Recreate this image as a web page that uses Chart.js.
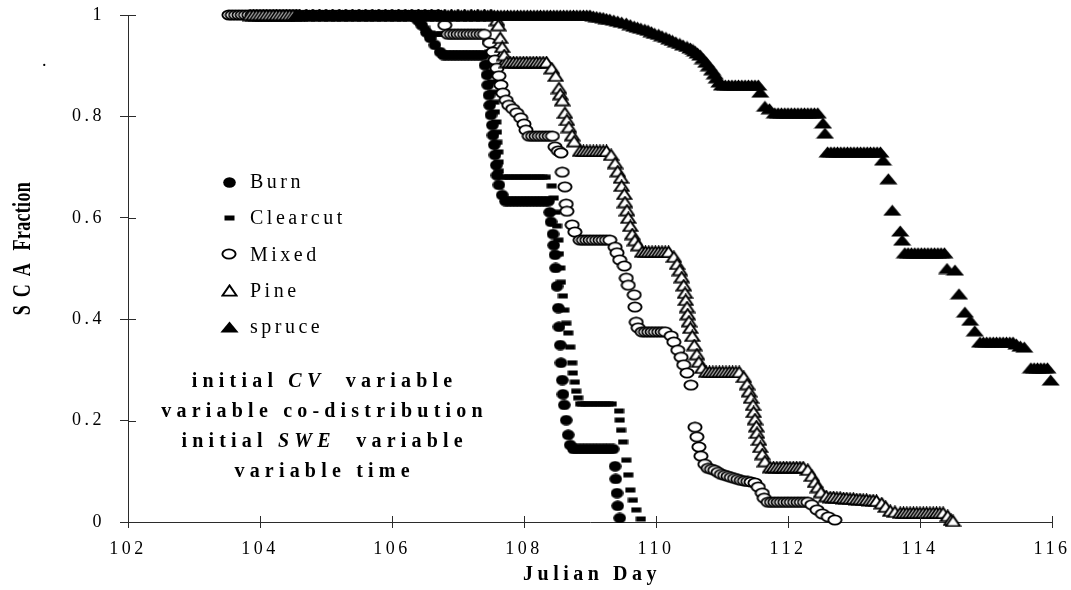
<!DOCTYPE html>
<html>
<head>
<meta charset="utf-8">
<title>SCA depletion by stand type</title>
<script src="https://cdn.jsdelivr.net/npm/chart.js@4.4.1/dist/chart.umd.min.js"></script>
<style>
  html, body { margin: 0; padding: 0; background: #fff; }
  #wrap { width: 1071px; height: 590px; position: relative; }
</style>
</head>
<body>
<div id="wrap"><canvas id="chart" width="1071" height="590"></canvas></div>
<script>
// ---- data: snow-covered-area fraction against Julian day ----
const seriesNames = ['Burn', 'Clearcut', 'Mixed', 'Pine', 'spruce'];
const dayTicks = [102, 104, 106, 108, 110, 112, 114, 116];
const scaTicks = [0, 0.2, 0.4, 0.6, 0.8, 1];
const noteLines = [
  [['initial ', false], ['CV', true], ['  variable', false]],
  [['variable co-distribution', false]],
  [['initial ', false], ['SWE', true], ['  variable', false]],
  [['variable time', false]]
];

const burnPoints = [
  [104.0,1],[104.1,1],[104.2,1],[104.3,1],[104.4,1],[104.5,1],[104.6,1],[104.7,1],[104.8,1],[104.9,1],
  [105.0,1],[105.1,1],[105.2,1],[105.3,1],[105.4,1],[105.5,1],[105.6,1],[105.7,1],[105.8,1],[105.9,1],
  [106.0,1],[106.1,1],[106.2,1],[106.3,1],[106.35,1],
  [106.39,0.99],[106.45,0.98],[106.52,0.966],[106.58,0.955],[106.65,0.941],[106.73,0.927],
  [106.78,0.921],[106.83,0.921],[106.88,0.921],[106.93,0.921],[106.98,0.921],[107.03,0.921],[107.08,0.921],
  [107.13,0.921],[107.18,0.921],[107.23,0.921],[107.28,0.921],[107.33,0.921],[107.38,0.921],
  [107.41,0.901],[107.44,0.882],[107.45,0.862],[107.47,0.842],[107.48,0.822],[107.5,0.803],[107.52,0.783],
  [107.53,0.763],[107.55,0.744],[107.56,0.724],[107.58,0.704],[107.59,0.684],[107.62,0.665],[107.67,0.645],
  [107.72,0.633],[107.77,0.633],[107.82,0.633],[107.87,0.633],[107.92,0.633],[107.97,0.633],[108.02,0.633],
  [108.07,0.633],[108.12,0.633],[108.17,0.633],[108.22,0.633],[108.27,0.633],[108.32,0.633],[108.37,0.633],
  [108.39,0.611],[108.41,0.592],[108.44,0.568],[108.45,0.546],[108.47,0.527],[108.48,0.501],[108.5,0.465],
  [108.52,0.422],[108.53,0.385],[108.55,0.349],[108.56,0.314],[108.58,0.28],[108.59,0.252],[108.61,0.231],
  [108.64,0.201],[108.67,0.172],[108.7,0.152],
  [108.75,0.144],[108.8,0.144],[108.85,0.144],[108.9,0.144],[108.95,0.144],[109.0,0.144],[109.05,0.144],
  [109.1,0.144],[109.15,0.144],[109.2,0.144],[109.25,0.144],[109.3,0.144],[109.35,0.144],
  [109.38,0.11],[109.39,0.085],[109.41,0.057],[109.42,0.032],[109.45,0.008]
];

const clearcutPoints = [
  [104.0,1],[104.1,1],[104.2,1],[104.3,1],[104.4,1],[104.5,1],[104.6,1],[104.7,1],[104.8,1],[104.9,1],
  [105.0,1],[105.1,1],[105.2,1],[105.3,1],[105.4,1],[105.5,1],[105.6,1],[105.7,1],[105.8,1],[105.9,1],
  [106.0,1],[106.1,1],[106.2,1],[106.3,1],[106.35,1],
  [106.42,0.986],[106.5,0.974],[106.58,0.964],
  [106.65,0.962],[106.7,0.962],[106.75,0.962],[106.8,0.962],[106.85,0.962],[106.9,0.962],[106.95,0.962],
  [107.0,0.962],[107.05,0.962],[107.1,0.962],[107.15,0.962],[107.2,0.962],[107.25,0.962],[107.3,0.962],[107.35,0.962],
  [107.44,0.947],[107.47,0.927],[107.48,0.907],[107.5,0.888],[107.52,0.868],[107.53,0.848],[107.55,0.828],
  [107.56,0.809],[107.58,0.789],[107.59,0.769],[107.595,0.749],[107.61,0.73],[107.615,0.71],[107.62,0.692],
  [107.68,0.68],[107.73,0.68],[107.78,0.68],[107.83,0.68],[107.88,0.68],[107.93,0.68],[107.98,0.68],
  [108.03,0.68],[108.08,0.68],[108.13,0.68],[108.18,0.68],[108.23,0.68],[108.28,0.68],[108.33,0.68],
  [108.42,0.663],[108.45,0.639],[108.48,0.611],[108.5,0.584],[108.52,0.556],[108.53,0.529],[108.55,0.501],
  [108.56,0.473],[108.59,0.446],[108.61,0.418],[108.64,0.392],[108.67,0.373],[108.7,0.345],[108.73,0.314],
  [108.74,0.294],[108.77,0.276],[108.79,0.258],[108.82,0.245],
  [108.85,0.233],[108.88,0.233],[108.93,0.233],[108.98,0.233],[109.03,0.233],[109.08,0.233],[109.13,0.233],
  [109.18,0.233],[109.23,0.233],[109.28,0.233],[109.33,0.233],
  [109.44,0.219],[109.45,0.201],[109.47,0.181],[109.5,0.158],[109.55,0.122],[109.58,0.093],[109.61,0.063],
  [109.65,0.043],[109.7,0.024],[109.77,0.006]
];

const mixedPoints = [
  [103.53,1],[103.58,1],[103.63,1],[103.68,1],[103.73,1],[103.78,1],[103.83,1],[103.88,1],[103.93,1],[103.98,1],
  [104.03,1],[104.08,1],[104.13,1],[104.18,1],[104.23,1],[104.28,1],[104.33,1],[104.38,1],[104.43,1],[104.48,1],
  [104.53,1],[104.58,1],
  [104.7,1],[104.8,1],[104.9,1],[105.0,1],[105.1,1],[105.2,1],[105.3,1],[105.4,1],[105.5,1],[105.6,1],
  [105.7,1],[105.8,1],[105.9,1],[106.0,1],[106.1,1],[106.2,1],[106.3,1],[106.4,1],[106.5,1],[106.6,1],[106.7,1],
  [106.8,0.98],
  [106.85,0.962],[106.9,0.962],[106.95,0.962],[107.0,0.962],[107.05,0.962],[107.1,0.962],[107.15,0.962],
  [107.2,0.962],[107.25,0.962],[107.3,0.962],[107.35,0.962],[107.4,0.962],
  [107.48,0.945],[107.53,0.927],[107.56,0.911],[107.59,0.895],[107.62,0.88],[107.65,0.862],[107.68,0.846],
  [107.73,0.832],[107.77,0.822],[107.83,0.815],[107.89,0.807],[107.95,0.797],[108.0,0.785],[108.03,0.773],
  [108.08,0.761],[108.13,0.761],[108.18,0.761],[108.23,0.761],[108.28,0.761],[108.33,0.761],[108.38,0.761],[108.43,0.761],
  [108.47,0.74],[108.52,0.732],[108.56,0.728],[108.58,0.69],[108.62,0.661],[108.64,0.627],[108.65,0.613],
  [108.73,0.586],[108.77,0.572],
  [108.85,0.556],[108.9,0.556],[108.95,0.556],[109.0,0.556],[109.05,0.556],[109.1,0.556],[109.15,0.556],
  [109.2,0.556],[109.25,0.556],[109.3,0.556],
  [109.38,0.542],[109.41,0.531],[109.45,0.517],[109.52,0.505],[109.55,0.481],[109.58,0.467],[109.67,0.448],
  [109.68,0.424],[109.7,0.394],[109.73,0.383],
  [109.79,0.375],[109.84,0.375],[109.89,0.375],[109.94,0.375],[109.99,0.375],[110.04,0.375],[110.09,0.375],[110.14,0.375],
  [110.23,0.367],[110.27,0.355],[110.33,0.339],[110.38,0.325],[110.42,0.31],[110.47,0.294],[110.53,0.27],
  [110.59,0.187],[110.62,0.168],[110.65,0.148],[110.68,0.13],[110.74,0.114],
  [110.79,0.106],[110.84,0.104],[110.89,0.102],[110.94,0.098],[110.99,0.094],[111.04,0.092],[111.09,0.09],
  [111.14,0.088],[111.19,0.086],[111.24,0.084],[111.29,0.082],[111.34,0.081],[111.39,0.08],[111.44,0.079],
  [111.5,0.077],[111.55,0.069],[111.61,0.057],[111.64,0.047],
  [111.7,0.039],[111.75,0.039],[111.8,0.039],[111.85,0.039],[111.9,0.039],[111.95,0.039],[112.0,0.039],
  [112.05,0.039],[112.1,0.039],[112.15,0.039],[112.2,0.039],[112.25,0.039],[112.3,0.039],
  [112.36,0.034],[112.44,0.024],[112.52,0.016],[112.61,0.01],[112.71,0.004]
];

const pinePoints = [
  [103.85,1],[103.9,1],[103.95,1],[104.0,1],[104.05,1],[104.1,1],[104.15,1],[104.2,1],[104.25,1],[104.3,1],
  [104.35,1],[104.4,1],[104.45,1],[104.5,1],[104.55,1],[104.6,1],
  [104.7,1],[104.8,1],[104.9,1],[105.0,1],[105.1,1],[105.2,1],[105.3,1],[105.4,1],[105.5,1],[105.6,1],
  [105.7,1],[105.8,1],[105.9,1],[106.0,1],[106.1,1],[106.2,1],[106.3,1],[106.4,1],[106.5,1],[106.6,1],
  [106.7,1],[106.8,1],[106.9,1],[107.0,1],[107.1,1],[107.2,1],[107.3,1],[107.4,1],[107.5,1],
  [107.59,0.99],[107.61,0.98],[107.64,0.955],[107.67,0.937],[107.7,0.921],
  [107.74,0.907],[107.79,0.907],[107.84,0.907],[107.89,0.907],[107.94,0.907],[107.99,0.907],[108.04,0.907],
  [108.09,0.907],[108.14,0.907],[108.19,0.907],[108.24,0.907],[108.29,0.907],[108.34,0.907],
  [108.42,0.895],[108.48,0.88],[108.53,0.856],[108.55,0.844],[108.58,0.832],[108.62,0.807],[108.65,0.793],
  [108.68,0.779],[108.73,0.763],[108.76,0.751],
  [108.85,0.732],[108.9,0.732],[108.95,0.732],[109.0,0.732],[109.05,0.732],[109.1,0.732],[109.15,0.732],
  [109.2,0.732],[109.25,0.732],
  [109.32,0.724],[109.38,0.708],[109.42,0.692],[109.47,0.679],[109.48,0.663],[109.52,0.647],[109.53,0.631],
  [109.56,0.615],[109.58,0.6],[109.61,0.584],[109.64,0.568],[109.68,0.556],[109.73,0.546],
  [109.79,0.533],[109.84,0.533],[109.89,0.533],[109.94,0.533],[109.99,0.533],[110.04,0.533],[110.09,0.533],
  [110.14,0.533],[110.19,0.533],
  [110.27,0.523],[110.32,0.509],[110.36,0.497],[110.39,0.483],[110.42,0.467],[110.44,0.452],[110.45,0.438],
  [110.47,0.424],[110.48,0.41],[110.5,0.396],[110.52,0.383],[110.55,0.367],[110.58,0.349],[110.62,0.331],
  [110.65,0.316],[110.7,0.304],
  [110.76,0.296],[110.81,0.296],[110.86,0.296],[110.91,0.296],[110.96,0.296],[111.01,0.296],[111.06,0.296],
  [111.11,0.296],[111.16,0.296],[111.21,0.296],[111.26,0.296],
  [111.33,0.286],[111.38,0.272],[111.41,0.258],[111.44,0.245],[111.47,0.231],[111.48,0.217],[111.5,0.203],
  [111.52,0.189],[111.53,0.176],[111.56,0.162],[111.58,0.148],[111.61,0.134],[111.65,0.12],
  [111.73,0.108],[111.78,0.108],[111.83,0.108],[111.88,0.108],[111.93,0.108],[111.98,0.108],[112.03,0.108],
  [112.08,0.108],[112.13,0.108],[112.18,0.108],[112.23,0.108],
  [112.3,0.103],[112.36,0.091],[112.41,0.079],[112.45,0.069],[112.5,0.059],[112.58,0.051],
  [112.64,0.049],[112.69,0.049],[112.74,0.048],[112.79,0.048],[112.84,0.047],[112.89,0.047],[112.94,0.046],
  [112.99,0.046],[113.04,0.045],[113.09,0.045],[113.14,0.044],[113.19,0.044],[113.24,0.043],[113.29,0.043],[113.34,0.042],
  [113.42,0.037],[113.48,0.03],[113.55,0.022],[113.62,0.02],
  [113.7,0.018],[113.75,0.018],[113.8,0.018],[113.85,0.018],[113.9,0.018],[113.95,0.018],[114.0,0.018],
  [114.05,0.018],[114.1,0.018],[114.15,0.018],[114.2,0.018],[114.25,0.018],[114.3,0.018],[114.35,0.018],
  [114.42,0.012],[114.47,0.004],[114.5,0.002]
];

const sprucePoints = [
  [104.55,1],[104.6,1],[104.65,1],[104.7,1],[104.75,1],[104.8,1],[104.85,1],[104.9,1],[104.95,1],[105.0,1],
  [105.05,1],[105.1,1],[105.15,1],[105.2,1],[105.25,1],[105.3,1],[105.35,1],[105.4,1],[105.45,1],[105.5,1],
  [105.55,1],[105.6,1],[105.65,1],[105.7,1],[105.75,1],[105.8,1],[105.85,1],[105.9,1],[105.95,1],[106.0,1],
  [106.05,1],[106.1,1],[106.15,1],[106.2,1],[106.25,1],[106.3,1],[106.35,1],[106.4,1],[106.45,1],[106.5,1],
  [106.55,1],[106.6,1],[106.65,1],[106.7,1],[106.75,1],[106.8,1],[106.85,1],[106.9,1],[106.95,1],[107.0,1],
  [107.05,1],[107.1,1],[107.15,1],[107.2,1],[107.25,1],[107.3,1],[107.35,1],[107.4,1],[107.45,1],[107.5,1],
  [107.55,1],[107.6,1],[107.65,1],[107.7,1],[107.75,1],[107.8,1],[107.85,1],[107.9,1],[107.95,1],[108.0,1],
  [108.05,1],[108.1,1],[108.15,1],[108.2,1],[108.25,1],[108.3,1],[108.35,1],[108.4,1],[108.45,1],[108.5,1],
  [108.55,1],[108.6,1],[108.65,1],[108.7,1],[108.75,1],[108.8,1],[108.85,1],[108.9,1],[108.95,1],[109.0,1],
  [109.05,0.998],[109.1,0.997],[109.15,0.996],[109.2,0.995],[109.25,0.993],[109.3,0.992],[109.36,0.99],
  [109.42,0.988],[109.48,0.986],[109.55,0.984],[109.61,0.981],[109.67,0.978],[109.72,0.976],[109.77,0.974],
  [109.83,0.972],[109.88,0.97],[109.93,0.967],[109.98,0.964],[110.04,0.962],[110.09,0.959],[110.15,0.956],
  [110.2,0.953],[110.25,0.95],[110.3,0.947],[110.36,0.944],[110.41,0.941],[110.47,0.938],[110.52,0.935],
  [110.56,0.932],[110.59,0.929],[110.63,0.925],[110.67,0.921],[110.71,0.914],[110.76,0.907],[110.8,0.9],
  [110.85,0.892],[110.89,0.884],[110.92,0.876],[110.96,0.868],
  [111.0,0.862],[111.05,0.862],[111.1,0.862],[111.15,0.862],[111.2,0.862],[111.25,0.862],[111.3,0.862],
  [111.35,0.862],[111.4,0.862],[111.45,0.862],[111.5,0.862],[111.55,0.862],
  [111.58,0.848],[111.65,0.82],[111.72,0.815],
  [111.8,0.807],[111.85,0.807],[111.9,0.807],[111.95,0.807],[112.0,0.807],[112.05,0.807],[112.1,0.807],
  [112.15,0.807],[112.2,0.807],[112.25,0.807],[112.3,0.807],[112.35,0.807],[112.4,0.807],[112.45,0.807],
  [112.53,0.787],[112.56,0.767],
  [112.6,0.73],[112.65,0.73],[112.7,0.73],[112.75,0.73],[112.8,0.73],[112.85,0.73],[112.9,0.73],[112.95,0.73],
  [113.0,0.73],[113.05,0.73],[113.1,0.73],[113.15,0.73],[113.2,0.73],[113.25,0.73],[113.3,0.73],[113.35,0.73],[113.4,0.73],
  [113.44,0.714],[113.52,0.677],[113.58,0.615],[113.7,0.574],[113.73,0.556],
  [113.77,0.531],[113.82,0.531],[113.87,0.531],[113.92,0.531],[113.97,0.531],[114.02,0.531],[114.07,0.531],
  [114.12,0.531],[114.17,0.531],[114.22,0.531],[114.27,0.531],[114.32,0.531],[114.37,0.531],
  [114.41,0.5],[114.53,0.497],[114.59,0.45],[114.68,0.414],[114.76,0.398],[114.83,0.377],
  [114.91,0.355],[114.96,0.355],[115.01,0.355],[115.06,0.355],[115.11,0.355],[115.16,0.355],[115.21,0.355],
  [115.26,0.355],[115.31,0.355],[115.36,0.355],[115.41,0.355],
  [115.46,0.351],[115.52,0.347],[115.58,0.345],
  [115.68,0.304],[115.73,0.304],[115.78,0.304],[115.83,0.304],[115.88,0.304],[115.93,0.304],
  [115.98,0.28]
];

// ---- marker glyphs ----
function glyph(w, h, paint) {
  const c = document.createElement('canvas');
  c.width = w; c.height = h;
  paint(c.getContext('2d'), w, h);
  return c;
}
const INK = '#000';
const markers = {
  burn: glyph(13, 11, (g) => {
    g.fillStyle = INK; g.beginPath(); g.ellipse(6.5, 5.5, 6.3, 5.3, 0, 0, Math.PI * 2); g.fill();
  }),
  clearcut: glyph(11, 6, (g) => {
    g.fillStyle = INK; g.fillRect(0.5, 0.5, 10, 5);
  }),
  mixed: glyph(16, 12, (g) => {
    g.beginPath(); g.ellipse(8, 6, 6.6, 4.6, 0, 0, Math.PI * 2);
    g.fillStyle = '#fff'; g.fill(); g.lineWidth = 1.9; g.strokeStyle = INK; g.stroke();
  }),
  pine: glyph(17, 13, (g) => {
    g.beginPath(); g.moveTo(8.5, 1.4); g.lineTo(15.6, 11.6); g.lineTo(1.4, 11.6); g.closePath();
    g.fillStyle = '#fff'; g.fill(); g.lineWidth = 1.9; g.lineJoin = 'miter'; g.strokeStyle = INK; g.stroke();
  }),
  spruce: glyph(19, 12, (g) => {
    g.beginPath(); g.moveTo(9.5, 0.6); g.lineTo(18.6, 11.4); g.lineTo(0.4, 11.4); g.closePath();
    g.fillStyle = INK; g.fill();
  })
};
const markerOrder = [markers.burn, markers.clearcut, markers.mixed, markers.pine, markers.spruce];
const allPoints = [burnPoints, clearcutPoints, mixedPoints, pinePoints, sprucePoints];

// ---- layout and text styling ----
const AXIS = '#2b2b2b';
const SERIF = '"Liberation Serif", "Times New Roman", serif';
const legendBox = { markerX: 229, textX: 250, firstY: 182, stepY: 36.2 };
const noteBox = { centerX: 322, firstY: 382, stepY: 30 };
const yTitleRuns = [['SCA', 8], [' Fraction', 0.3]];
const yTitleBox = { x: 23, topY: 182, widen: 1.4 };

const decor = {
  id: 'decor',
  beforeDraw(chart) {
    chart.ctx.letterSpacing = '3.5px';
  },
  afterDraw(chart) {
    const ctx = chart.ctx;
    const { left, bottom } = chart.chartArea;
    const xs = chart.scales.x, ys = chart.scales.y;
    ctx.save();

    // inner halves of the crossing tick marks
    ctx.strokeStyle = AXIS; ctx.lineWidth = 1;
    ctx.beginPath();
    dayTicks.forEach((d) => {
      const px = Math.round(xs.getPixelForValue(d)) + 0.5;
      ctx.moveTo(px, bottom); ctx.lineTo(px, bottom - 6);
    });
    scaTicks.forEach((v) => {
      const py = Math.round(ys.getPixelForValue(v)) + 0.5;
      ctx.moveTo(left, py); ctx.lineTo(left + 8, py);
    });
    ctx.stroke();

    ctx.fillStyle = INK;
    ctx.textBaseline = 'middle';

    // legend
    ctx.font = '20px ' + SERIF;
    ctx.letterSpacing = '3.5px';
    ctx.textAlign = 'left';
    seriesNames.forEach((name, i) => {
      const y = legendBox.firstY + i * legendBox.stepY;
      const m = markerOrder[i];
      ctx.drawImage(m, Math.round(legendBox.markerX - m.width / 2), Math.round(y - m.height / 2));
      ctx.fillText(name, legendBox.textX, y + 1);
    });

    // model-configuration note
    ctx.letterSpacing = '5.2px';
    noteLines.forEach((runs, i) => {
      const y = noteBox.firstY + i * noteBox.stepY;
      const fonts = runs.map(([, it]) => (it ? 'italic bold 20px ' : 'bold 20px ') + SERIF);
      const widths = runs.map(([t], k) => { ctx.font = fonts[k]; return ctx.measureText(t).width; });
      const total = widths.reduce((a, b) => a + b, 0) - 5.2;
      let x = noteBox.centerX - total / 2;
      runs.forEach(([t], k) => { ctx.font = fonts[k]; ctx.fillText(t, x, y); x += widths[k]; });
    });

    // axis titles
    ctx.font = 'bold 20px ' + SERIF;
    ctx.letterSpacing = '4.5px';
    ctx.textAlign = 'center';
    ctx.fillText('Julian Day', (chart.chartArea.left + chart.chartArea.right) / 2 + 2, 575);

    ctx.save();
    ctx.font = 'bold 18px ' + SERIF;
    ctx.textAlign = 'left';
    const yw = yTitleRuns.map(([t, sp]) => { ctx.letterSpacing = sp + 'px'; return ctx.measureText(t).width; });
    const yTotal = yw.reduce((a, b) => a + b, 0);
    ctx.translate(yTitleBox.x, yTitleBox.topY + yTotal);
    ctx.scale(yTitleBox.widen, 1);
    ctx.rotate(-Math.PI / 2);
    let tx = 0;
    yTitleRuns.forEach(([t, sp], k) => { ctx.letterSpacing = sp + 'px'; ctx.fillText(t, tx, 0); tx += yw[k]; });
    ctx.restore();

    // stray full stop near the top of the value axis
    ctx.font = '18px ' + SERIF;
    ctx.letterSpacing = '0px';
    ctx.textBaseline = 'alphabetic';
    ctx.textAlign = 'left';
    ctx.fillText('.', 42, 66);

    ctx.restore();
  }
};

const tickFont = { family: SERIF, size: 18 };

new Chart(document.getElementById('chart'), {
  type: 'scatter',
  data: {
    datasets: seriesNames.map((name, i) => ({
      label: name,
      data: allPoints[i].map(([x, y]) => ({ x, y })),
      pointStyle: markerOrder[i],
      pointRadius: 6,
      pointHoverRadius: 6,
      showLine: false,
      clip: false,
      order: seriesNames.length - i
    }))
  },
  options: {
    responsive: false,
    animation: false,
    events: [],
    layout: { padding: { left: 0, right: 19, top: 15, bottom: 0 } },
    plugins: { legend: { display: false }, tooltip: { enabled: false }, title: { display: false } },
    scales: {
      x: {
        type: 'linear', min: 102, max: 116,
        afterBuildTicks: (s) => { s.ticks = dayTicks.map((v) => ({ value: v })); },
        afterFit: (s) => { s.height = 68; s.paddingLeft = 0; s.paddingRight = 0; },
        ticks: { font: tickFont, color: INK, padding: 10, maxRotation: 0, autoSkip: false,
                 callback: (v) => String(v) },
        grid: { drawOnChartArea: false, drawTicks: true, tickLength: 6, color: AXIS, lineWidth: 1 },
        border: { display: true, color: AXIS, width: 1 },
        title: { display: false }
      },
      y: {
        type: 'linear', min: 0, max: 1,
        afterBuildTicks: (s) => { s.ticks = scaTicks.map((v) => ({ value: v })); },
        afterFit: (s) => { s.width = 128; s.paddingTop = 0; s.paddingBottom = 0; },
        ticks: { font: tickFont, color: INK, padding: 15, callback: (v) => String(v) },
        grid: { drawOnChartArea: false, drawTicks: true, tickLength: 8, color: AXIS, lineWidth: 1 },
        border: { display: true, color: AXIS, width: 1 },
        title: { display: false }
      }
    }
  },
  plugins: [decor]
});
</script>
</body>
</html>
